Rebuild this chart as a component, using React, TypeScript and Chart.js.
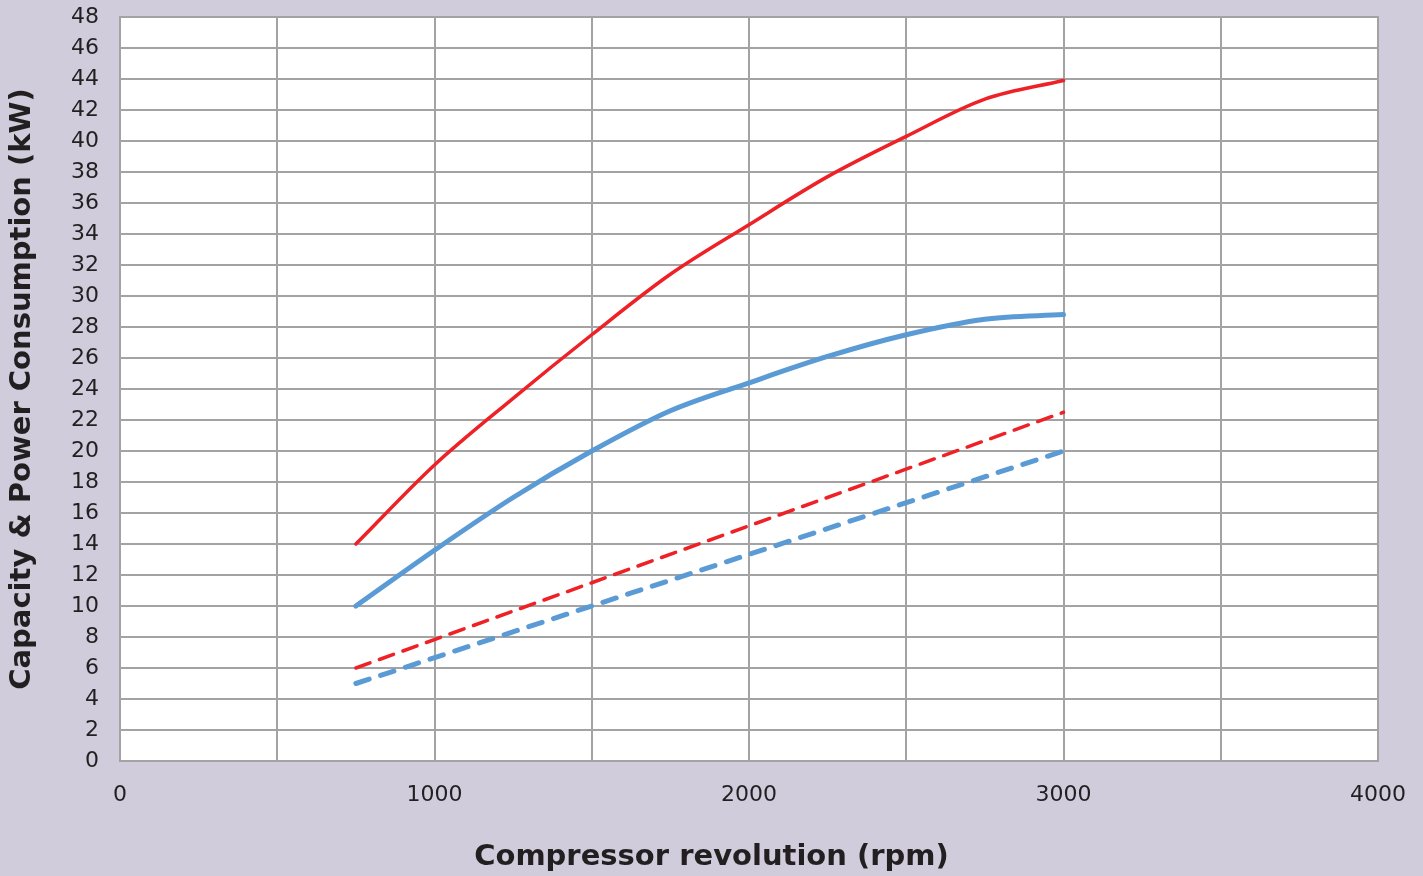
import React, { useEffect, useRef } from "react";
import { Chart, registerables } from "chart.js";

Chart.register(...registerables);

const rpmSolid = [750, 1000, 1250, 1500, 1750, 2000, 2250, 2500, 2750, 3000];
const redCapacity = [14, 19.1, 23.4, 27.5, 31.4, 34.6, 37.7, 40.3, 42.7, 43.9];
const blueCapacity = [10, 13.6, 17.0, 20.0, 22.6, 24.4, 26.1, 27.5, 28.5, 28.8];
const rpmDashed = [750, 1500, 2000, 3000];
const redPower = [6, 11.5, 15.17, 22.5];
const bluePower = [5, 10, 13.33, 20];

const xTitle = "Compressor revolution (rpm)";
const yTitle = "Capacity & Power Consumption (kW)";

const RED = "#ee2127";
const BLUE = "#5b9bd5";
const GRID = "#a3a3a3";
const TEXT = "#231f20";
const FONT = "'DejaVu Sans', sans-serif";

export default function App() {
  const ref = useRef<HTMLCanvasElement>(null);
  useEffect(() => {
    document.body.style.margin = "0";
    document.body.style.background = "#d0ccdc";
    const pts = (xs: number[], ys: number[]) => xs.map((x, i) => ({ x, y: ys[i] }));
    const chart = new Chart(ref.current!, {
      type: "line",
      data: {
        datasets: [
          { data: pts(rpmSolid, redCapacity), borderColor: RED, borderWidth: 3.5, pointRadius: 0, cubicInterpolationMode: "monotone", borderCapStyle: "round" },
          { data: pts(rpmSolid, blueCapacity), borderColor: BLUE, borderWidth: 5, pointRadius: 0, cubicInterpolationMode: "monotone", borderCapStyle: "round" },
          { data: pts(rpmDashed, redPower), borderColor: RED, borderWidth: 3.5, pointRadius: 0, borderDash: [15, 10], borderCapStyle: "round" },
          { data: pts(rpmDashed, bluePower), borderColor: BLUE, borderWidth: 5, pointRadius: 0, borderDash: [14, 12], borderCapStyle: "round" },
        ],
      },
      options: {
        animation: false,
        responsive: false,
        layout: { padding: { top: 17, right: 45, left: 0, bottom: 0 } },
        plugins: { legend: { display: false }, tooltip: { enabled: false } },
        scales: {
          x: {
            type: "linear",
            min: 0,
            max: 4000,
            ticks: {
              stepSize: 500,
              padding: 21,
              color: TEXT,
              font: { family: FONT, size: 22 },
              maxRotation: 0,
              autoSkip: false,
              callback: (v: any) => (Number(v) % 1000 === 0 ? String(v) : ""),
            },
            grid: { color: GRID, lineWidth: 2, drawTicks: false },
            border: { color: GRID, width: 2 },
            afterFit: (s: any) => { s.height = 115; s.paddingLeft = 0; s.paddingRight = 0; },
          },
          y: {
            min: 0,
            max: 48,
            ticks: { stepSize: 2, padding: 21, color: TEXT, font: { family: FONT, size: 22 } },
            grid: { color: GRID, lineWidth: 2, drawTicks: false },
            border: { color: GRID, width: 2 },
            afterFit: (s: any) => { s.width = 120; s.paddingTop = 0; s.paddingBottom = 0; },
          },
        },
      },
      plugins: [
        {
          id: "plotBg",
          beforeDraw: (c: any) => {
            const { ctx, chartArea } = c;
            ctx.save();
            ctx.fillStyle = "#d0ccdc";
            ctx.fillRect(0, 0, c.width, c.height);
            ctx.fillStyle = "#ffffff";
            ctx.fillRect(chartArea.left, chartArea.top, chartArea.right - chartArea.left, chartArea.bottom - chartArea.top);
            ctx.restore();
          },
        },
        {
          id: "frameTitles",
          afterDatasetsDraw: (c: any) => {
            const { ctx, chartArea } = c;
            ctx.save();
            ctx.strokeStyle = GRID;
            ctx.lineWidth = 2;
            ctx.strokeRect(chartArea.left, chartArea.top, chartArea.right - chartArea.left, chartArea.bottom - chartArea.top);
            ctx.fillStyle = TEXT;
            ctx.font = "bold 29px " + FONT;
            ctx.textAlign = "center";
            ctx.textBaseline = "middle";
            ctx.fillText(xTitle, c.width / 2, 857);
            ctx.translate(22, (chartArea.top + chartArea.bottom) / 2);
            ctx.rotate(-Math.PI / 2);
            ctx.fillText(yTitle, 0, 0);
            ctx.restore();
          },
        },
      ],
    } as any);
    return () => chart.destroy();
  }, []);
  return <canvas ref={ref} width={1423} height={876} style={{ display: "block" }} />;
}
